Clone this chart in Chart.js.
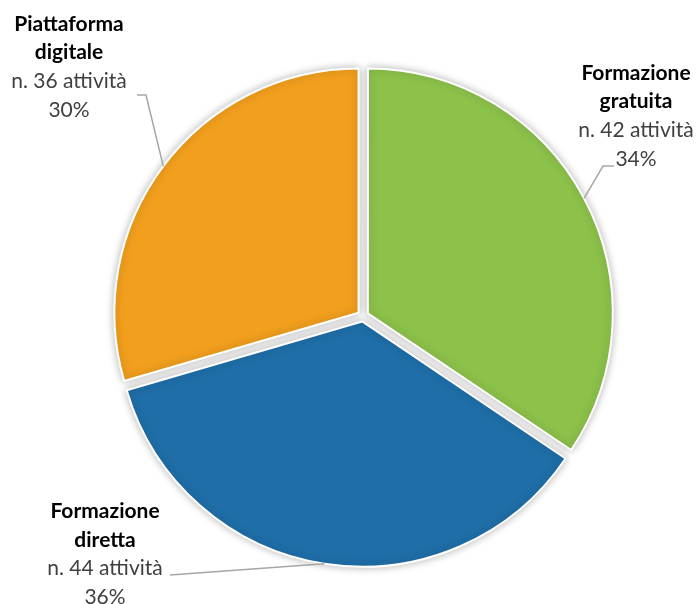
<!DOCTYPE html>
<html>
<head>
<meta charset="utf-8">
<script src="https://cdn.jsdelivr.net/npm/chart.js@4.4.1/dist/chart.umd.min.js"></script>
<style>
  html, body { margin: 0; padding: 0; background: #ffffff; }
  #wrap { width: 699px; height: 604px; }
</style>
</head>
<body>
<div id="wrap"><canvas id="c" width="699" height="604"></canvas></div>
<script>
// ---- data ----
const categoryTitles = [["Formazione", "gratuita"], ["Formazione", "diretta"], ["Piattaforma", "digitale"]];
const activityCounts = [42, 44, 36];
const percentLabels = ["34%", "36%", "30%"];
const sliceColors = ["#8CC14A", "#1F6EA8", "#F19F1D"];

// ---- label layout (style/positions, not data) ----
const labelLayout = [
  { cx: 636, baselines: [80, 108, 137, 166], elbow: [[603, 166], [614, 166]] },
  { cx: 105, baselines: [518, 547, 575, 604], elbow: [[170, 575]] },
  { cx: 69,  baselines: [31, 59, 88, 117],   elbow: [[146, 95], [137, 95]] }
];

const shadowPlugin = {
  id: 'sliceShadow',
  beforeDatasetsDraw(chart) {
    const ctx = chart.ctx;
    ctx.save();
    ctx.shadowColor = 'rgba(0,0,0,0.28)';
    ctx.shadowBlur = 9;
    ctx.shadowOffsetX = 0;
    ctx.shadowOffsetY = 0;
  },
  afterDatasetsDraw(chart) {
    chart.ctx.restore();
  }
};

const labelPlugin = {
  id: 'sliceLabels',
  afterDraw(chart) {
    const ctx = chart.ctx;
    const meta = chart.getDatasetMeta(0);
    const ds = chart.data.datasets[0];
    meta.data.forEach((arc, i) => {
      const p = arc.getProps(['x', 'y', 'startAngle', 'endAngle', 'outerRadius'], true);
      const mid = (p.startAngle + p.endAngle) / 2;
      const circ = p.endAngle - p.startAngle;
      const base = ds.offset / 4;
      const shift = base * (1 + (1 - Math.sin(Math.min(Math.PI, circ))));
      const ax = p.x + Math.cos(mid) * (p.outerRadius + shift);
      const ay = p.y + Math.sin(mid) * (p.outerRadius + shift);
      const L = labelLayout[i];
      ctx.save();
      ctx.strokeStyle = '#A6A6A6';
      ctx.lineWidth = 1.5;
      ctx.beginPath();
      ctx.moveTo(ax, ay);
      L.elbow.forEach(pt => ctx.lineTo(pt[0], pt[1]));
      ctx.stroke();
      ctx.textAlign = 'center';
      ctx.textBaseline = 'alphabetic';
      ctx.fillStyle = '#000000';
      ctx.font = 'bold 21px Lato, "Open Sans", sans-serif';
      ctx.fillText(categoryTitles[i][0], L.cx, L.baselines[0]);
      ctx.fillText(categoryTitles[i][1], L.cx, L.baselines[1]);
      ctx.fillStyle = '#404040';
      ctx.font = '21px Lato, "Open Sans", sans-serif';
      ctx.fillText('n. ' + activityCounts[i] + ' attività', L.cx, L.baselines[2]);
      ctx.fillText(percentLabels[i], L.cx, L.baselines[3]);
      ctx.restore();
    });
  }
};

new Chart(document.getElementById('c'), {
  type: 'pie',
  data: {
    labels: categoryTitles.map(t => t.join(' ')),
    datasets: [{
      data: activityCounts,
      backgroundColor: sliceColors,
      borderColor: '#ffffff',
      borderWidth: 2,
      offset: 22
    }]
  },
  options: {
    responsive: false,
    animation: false,
    radius: 244,
    layout: { padding: { left: 57, right: 30, top: 48, bottom: 20 } },
    plugins: {
      legend: { display: false },
      tooltip: { enabled: false }
    }
  },
  plugins: [shadowPlugin, labelPlugin]
});
</script>
</body>
</html>
